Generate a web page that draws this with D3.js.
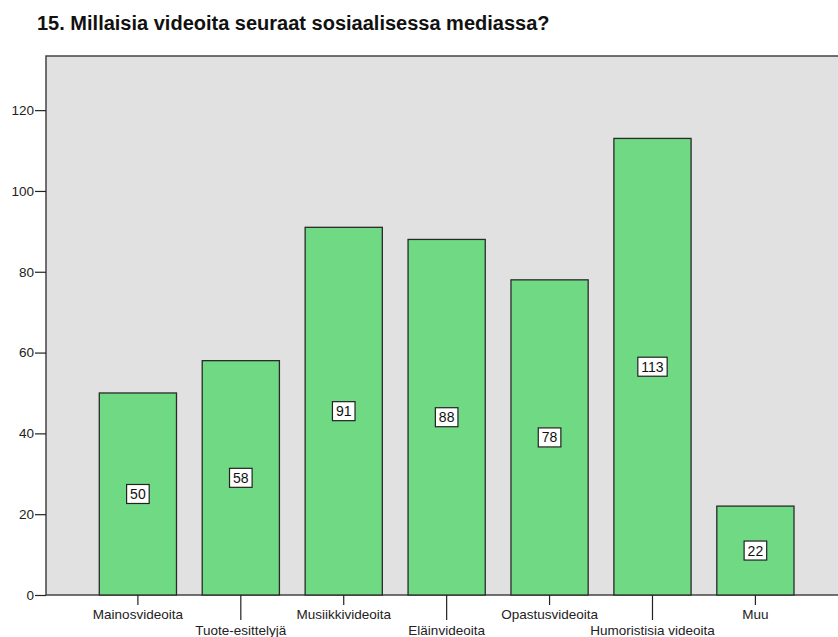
<!DOCTYPE html>
<html><head><meta charset="utf-8">
<script src="https://cdn.jsdelivr.net/npm/d3@7"></script>
<style>body{margin:0;background:#fff}svg{display:block;font-family:"Liberation Sans",Arial,sans-serif}</style>
</head><body>
<svg id="c" width="838" height="637"></svg>
<script>
const title = "15. Millaisia videoita seuraat sosiaalisessa mediassa?";
const categories = ["Mainosvideoita","Tuote-esittelyjä","Musiikkivideoita","Eläinvideoita","Opastusvideoita","Humoristisia videoita","Muu"];
const values = [50,58,91,88,78,113,22];
const yTicks = [0,20,40,60,80,100,120];

const svg = d3.select("#c");
const pL = 46, pR = 848, pT = 56, pB = 595;
const y = d3.scaleLinear().domain([0,133.4]).range([pB, pT]);
const x = d3.scaleBand().domain(categories).range([99.3, 794]).paddingInner(0.25).paddingOuter(0);

svg.append("text").attr("x",37).attr("y",30).attr("font-size",20).attr("font-weight","bold").attr("fill","#111").text(title);

svg.append("rect").attr("x",pL).attr("y",pT).attr("width",pR-pL).attr("height",pB-pT)
  .attr("fill","#e1e1e1").attr("stroke","#444").attr("stroke-width",1.5);

svg.selectAll("rect.bar").data(values).join("rect").attr("class","bar")
  .attr("x",(d,i)=>x(categories[i])).attr("width",x.bandwidth())
  .attr("y",d=>y(d)).attr("height",d=>y(0)-y(d))
  .attr("fill","#6fda83").attr("stroke","#2a2a2a").attr("stroke-width",1.3);

// y axis
const ya = svg.append("g").attr("transform",`translate(${pL},0)`)
  .call(d3.axisLeft(y).tickValues(yTicks).tickSize(11).tickPadding(1));
ya.select(".domain").remove();
ya.selectAll("line").attr("stroke","#222").attr("stroke-width",1.2);
ya.selectAll("text").attr("font-size",13.5).attr("fill","#222").attr("font-family","Liberation Sans, Arial, sans-serif");

// x axis
const xa = svg.append("g");
categories.forEach((c,i)=>{
  const cx = x(c)+x.bandwidth()/2;
  const odd = i%2===1;
  xa.append("line").attr("x1",cx).attr("x2",cx).attr("y1",pB).attr("y2",odd?620:605).attr("stroke","#222").attr("stroke-width",1.2);
  xa.append("text").attr("x",cx).attr("y",odd?635:619).attr("text-anchor","middle").attr("font-size",13.5).attr("fill","#222").text(c);
});

// value boxes
const lg = svg.append("g");
values.forEach((v,i)=>{
  const cx = x(categories[i])+x.bandwidth()/2;
  const cy = y(v/2);
  const t = lg.append("text").attr("x",cx).attr("y",cy+5).attr("text-anchor","middle").attr("font-size",14).attr("fill","#111").text(v);
  const w = t.node().getComputedTextLength();
  lg.insert("rect","text").attr("x",cx-w/2-3.5).attr("y",cy-9.5).attr("width",w+7).attr("height",19)
    .attr("fill","#fff").attr("stroke","#222").attr("stroke-width",1.2);
});
</script>
</body></html>
